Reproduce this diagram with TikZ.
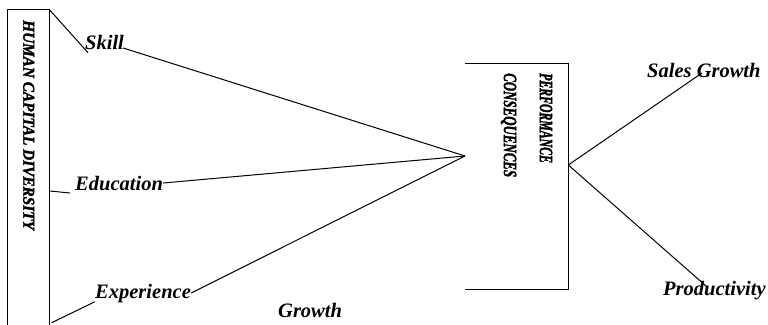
\documentclass[tikz,border=0pt]{standalone}
\usepackage{fontspec}
\setmainfont{Liberation Serif}
\newfontfamily\heavyserif{Liberation Serif}[FakeBold=2.2]
\begin{document}
\begin{tikzpicture}[x=1pt,y=-1pt,
  conn/.style={line width=1pt,black},
  lbl/.style={inner sep=0pt,font=\fontsize{20.5}{24}\selectfont\bfseries\itshape},
  boxline/.style={line width=1pt,black}]
\useasboundingbox (0,0) rectangle (768,324);
\clip (0,0) rectangle (768,324);
% left box (open at the bottom, running off the page)
\coordinate (lbTL) at (7,9.5);
\coordinate (lbTR) at (49.3,9.5);
\draw[boxline] (7,330) -- (lbTL) -- (lbTR) -- (49.3,330);
\node[inner sep=0pt,rotate=-90,anchor=base west,
      font=\heavyserif\fontsize{16.6}{20}\selectfont\bfseries\itshape] (hcd) at (23.3,20)
      {\scalebox{0.92}[1]{HUMAN CAPITAL DIVERSITY}};
% right box (no left side)
\draw[boxline] (465,63) -- (568.3,63) -- (568.3,289) -- (465,289);
\node[inner sep=0pt,rotate=-90,anchor=north west,align=left,
      font=\heavyserif\fontsize{18.7}{36}\selectfont\bfseries\itshape] (perf) at (552.5,73)
      {\scalebox{0.63}[1]{PERFORMANCE}\\\scalebox{0.69}[1]{CONSEQUENCES}};
% labels
\node[lbl,anchor=base west] (skill) at (85,49) {Skill};
\node[lbl,anchor=base west] (edu) at (75,190) {Education};
\node[lbl,anchor=base west] (exp) at (95,298) {Experience};
\node[lbl,anchor=base west] (growth) at (278,317) {Growth};
\node[lbl,anchor=base west] (sales) at (647,77) {Sales Growth};
\node[lbl,anchor=base west] (prod) at (663,295) {Productivity};
% hubs and free ends
\coordinate (hubL) at (465,156);
\coordinate (hubR) at (568.3,165);
\coordinate (skillfoot) at (88,52.7);
\coordinate (edustubA) at (50,191);
\coordinate (edustubB) at (70,193);
\coordinate (expstubA) at (51.7,322.7);
\coordinate (expstubB) at (95,301.7);
\coordinate (salesend) at (702,73);
\coordinate (prodend) at (706,286);
% connectors
\draw[conn] (lbTR) -- (skillfoot);
\draw[conn] (edustubA) -- (edustubB);
\draw[conn] (expstubA) -- (expstubB);
\draw[conn] (skill.base east) ++(-1,-1) -- (hubL);
\draw[conn] (edu.east) -- (hubL);
\draw[conn] (exp.east) -- (hubL);
\draw[conn] (hubR) -- (salesend);
\draw[conn] (hubR) -- (prodend);
\end{tikzpicture}
\end{document}
